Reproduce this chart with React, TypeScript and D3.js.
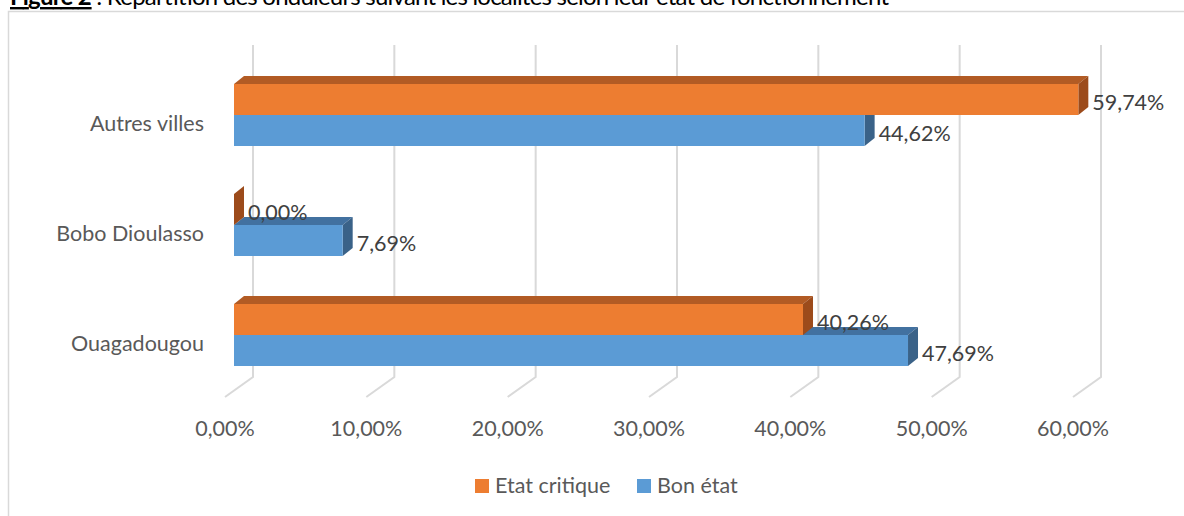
import React from "react";
import * as d3 from "d3";

const categories = ["Autres villes", "Bobo Dioulasso", "Ouagadougou"];
const etatCritique = [59.74, 0.0, 40.26];
const bonEtat = [44.62, 7.69, 47.69];
const ticks = [0, 10, 20, 30, 40, 50, 60];
const seriesNames = ["Etat critique", "Bon état"];

const W = 1184;
const H = 516;
const FONT = "Lato, 'Open Sans', sans-serif";
const FS = 21.5;

// 3d offsets (bar depth, wall depth)
const BDX = 10, BDY = -8;
const WALL_BACK = 19, WALL_FRONT = -9, FLOOR_DY = 20;

const orange = { front: "#ED7D31", top: "#B25B24", side: "#9C4B1B" };
const blue = { front: "#5B9BD5", top: "#4271A0", side: "#3A6288" };

const fmt = (v: number) => d3.format(".2f")(v).replace(".", ",") + "%";

function Bar3D(props: { x0: number; x1: number; y: number; h: number; c: any }) {
  const { x0, x1, y, h, c } = props;
  const top = `M${x0},${y}L${x1},${y}L${x1 + BDX},${y + BDY}L${x0 + BDX},${y + BDY}Z`;
  const side = `M${x1},${y}L${x1 + BDX},${y + BDY}L${x1 + BDX},${y + h + BDY}L${x1},${y + h}Z`;
  return (
    <g>
      <path d={top} fill={c.top} />
      <path d={side} fill={c.side} />
      {x1 > x0 && <rect x={x0} y={y} width={x1 - x0} height={h} fill={c.front} />}
    </g>
  );
}

export default function App() {
  const x = d3.scaleLinear().domain([0, 60]).range([234, 1082]);
  const y = d3.scalePoint<string>().domain(categories).range([115, 335]);
  const barH = 31;
  const wallTop = 45, wallBottom = 377;

  return (
    <svg width={W} height={H} style={{ position: "absolute", left: 0, top: 0 }} fontFamily={FONT}>
      <rect width={W} height={H} fill="#fff" />
      {/* title, cut at top like the source */}
      <text x={10} y={5} fontSize={24} fill="#000" textLength={879} lengthAdjust="spacing">
        <tspan fontWeight="bold" textDecoration="underline">Figure 2</tspan>
        <tspan> : Répartition des onduleurs suivant les localités selon leur état de fonctionnement</tspan>
      </text>
      {/* chart border */}
      <path d={`M8.5,${H}V11.5H${W}`} fill="none" stroke="#d9d9d9" strokeWidth={1.5} />

      {/* gridlines on wall + floor */}
      {ticks.map(t => {
        const xb = x(t) + WALL_BACK;
        const xf = x(t) + WALL_FRONT;
        return (
          <path key={t} d={`M${xb},${wallTop}V${wallBottom}L${xf},${wallBottom + FLOOR_DY}`}
            fill="none" stroke="#d9d9d9" strokeWidth={2} />
        );
      })}

      {/* tick labels */}
      {ticks.map(t => (
        <text key={t} x={x(t) + WALL_FRONT} y={431} textAnchor="middle" dominantBaseline="middle"
          fontSize={FS} fill="#595959">{fmt(t)}</text>
      ))}

      {/* category labels */}
      {categories.map(c => (
        <text key={c} x={204} y={(y(c) as number) + 10.5} textAnchor="end" dominantBaseline="middle"
          fontSize={FS} fill="#595959">{c}</text>
      ))}

      {/* bars: blue first, orange on top */}
      {categories.map((c, i) => {
        const cy = y(c) as number;
        return (
          <g key={c}>
            <Bar3D x0={x(0)} x1={x(bonEtat[i])} y={cy} h={barH} c={blue} />
            <Bar3D x0={x(0)} x1={x(etatCritique[i])} y={cy - barH} h={barH} c={orange} />
          </g>
        );
      })}

      {/* data labels */}
      {categories.map((c, i) => {
        const cy = y(c) as number;
        return (
          <g key={c} fontSize={FS} fill="#404040">
            <text x={x(etatCritique[i]) + BDX + 4} y={cy - barH / 2 + 5} dominantBaseline="middle">{fmt(etatCritique[i])}</text>
            <text x={x(bonEtat[i]) + BDX + 4} y={cy + barH / 2 + 5} dominantBaseline="middle">{fmt(bonEtat[i])}</text>
          </g>
        );
      })}

      {/* legend */}
      {seriesNames.map((s, i) => {
        const lx = [475, 637][i];
        return (
          <g key={s}>
            <rect x={lx} y={479} width={14} height={14} fill={[orange, blue][i].front} />
            <text x={lx + 20} y={487.5} dominantBaseline="middle" fontSize={FS} fill="#595959">{s}</text>
          </g>
        );
      })}
    </svg>
  );
}
